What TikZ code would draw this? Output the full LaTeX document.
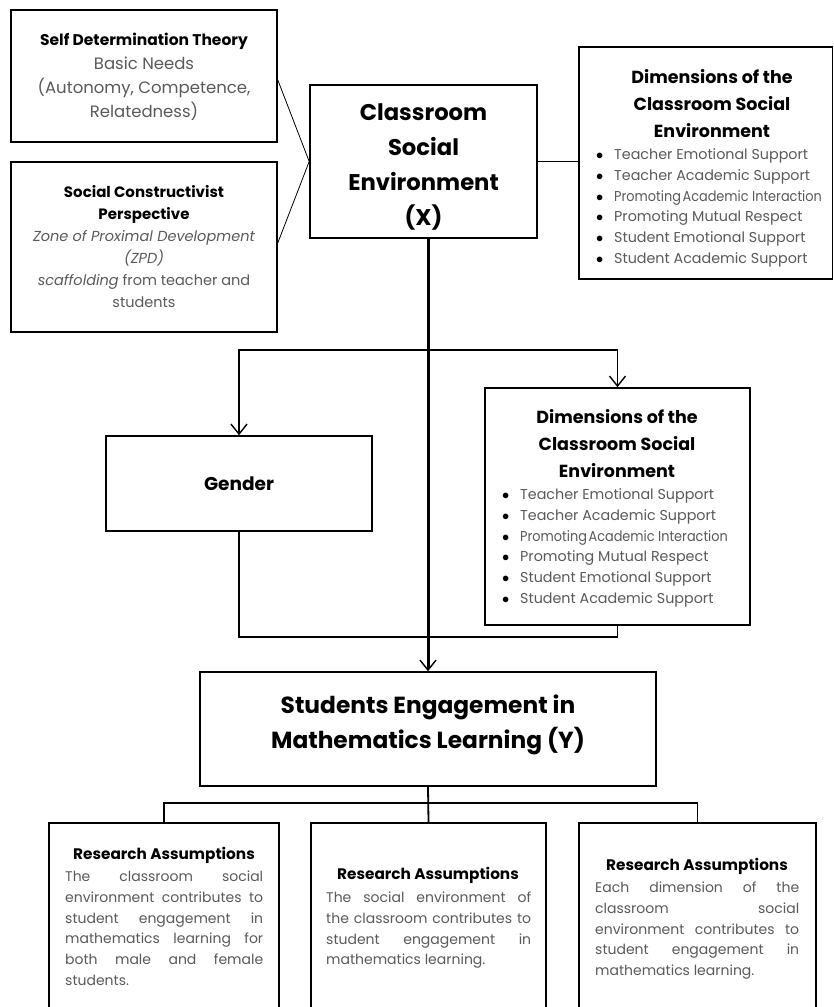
\documentclass[tikz,border=0pt]{standalone}
\usepackage{fontspec}
\usepackage{graphicx}
\setmainfont{Poppins}
\usetikzlibrary{arrows.meta,calc}
\definecolor{bodygray}{RGB}{90,90,90}
\newcommand{\bul}{\makebox[18pt][l]{\textcolor{black}{$\bullet$}}}
\begin{document}
\begin{tikzpicture}[x=1pt,y=-1pt,
  box/.style={draw, line width=1.6pt, rectangle, inner sep=0pt},
  conn/.style={line width=1.8pt},
  heavy/.style={line width=3pt},
  thinline/.style={line width=0.8pt},
  barb/.style={-{Straight Barb[length=10pt,width=16pt,line width=1.4pt]}},
  barbs/.style={{Straight Barb[length=10pt,width=16pt,line width=1.4pt]}-{Straight Barb[length=10pt,width=16pt,line width=1.4pt]}},
  txt/.style={inner sep=0pt, align=center},
  dimhead/.style={txt, anchor=north, font=\fontsize{17.5}{27}\selectfont\bfseries},
  dimlist/.style={txt, anchor=north west, align=left, text=bodygray, font=\fontsize{14.3}{20.8}\selectfont},
  rahead/.style={txt, font=\fontsize{15.3}{18}\selectfont\bfseries},
  rabody/.style={txt, anchor=north west, align=left, text=bodygray, font=\fontsize{14}{20.8}\selectfont},
]
\useasboundingbox (0,0) rectangle (834,1007);
\clip (0,0) rectangle (834,1007);
\fill[white] (0,0) rectangle (834,1007);

% boxes
\node[box, minimum width=266pt, minimum height=132pt] (sdt) at (144,76) {};
\node[box, minimum width=266pt, minimum height=170pt] (scp) at (144,247) {};
\node[box, minimum width=227pt, minimum height=153pt] (cse) at (423.5,161.5) {};
\node[box, minimum width=253.5pt, minimum height=232pt] (dimA) at (705.75,163) {};
\node[box, minimum width=266pt, minimum height=95pt] (gender) at (239,483.5) {};
\node[box, minimum width=265pt, minimum height=237pt] (dimB) at (617.5,506.5) {};
\node[box, minimum width=456pt, minimum height=114pt] (seml) at (428,729) {};
\node[box, minimum width=230pt, minimum height=220pt, anchor=north] (ra1) at (164,822) {};
\node[box, minimum width=235pt, minimum height=220pt, anchor=north] (ra2) at (428.5,822) {};
\node[box, minimum width=237pt, minimum height=220pt, anchor=north] (ra3) at (697.5,822) {};

% texts
\node[txt, text=bodygray, font=\fontsize{16.5}{24}\selectfont] (sdtt) at (144,76.5) {\textcolor{black}{\fontsize{15.5}{24}\selectfont\textbf{Self Determination Theory}}\\
  Basic Needs\\(Autonomy, Competence,\\Relatedness)};
\node[txt, text=bodygray, font=\fontsize{14.5}{22}\selectfont] (scpt) at (144,246.5) {\textcolor{black}{\fontsize{15}{22}\selectfont\textbf{Social Constructivist}}\\\textcolor{black}{\fontsize{15}{22}\selectfont\textbf{Perspective}}\\
  \textit{Zone of Proximal Development}\\\textit{(ZPD)}\\
  \textit{scaffolding} from teacher and\\students};
\node[txt, font=\fontsize{22.7}{35}\selectfont\bfseries] (cset) at (423.5,167) {Classroom\\Social\\Environment\\(X)};

\node[dimhead] (dimAh) at (712,69) {Dimensions of the\\Classroom Social\\Environment};
\node[dimlist] (dimAl) at (596,148.4) {%
  \bul Teacher Emotional Support\\
  \bul Teacher Academic Support\\
  \bul \scalebox{0.9}[1]{Promoting\hspace{-2pt} Academic Interaction}\\
  \bul Promoting Mutual Respect\\
  \bul Student Emotional Support\\
  \bul Student Academic Support};

\node[txt, font=\fontsize{18.5}{20}\selectfont\bfseries] (gendert) at (239,484) {Gender};

\node[dimhead] (dimBh) at (617,409) {Dimensions of the\\Classroom Social\\Environment};
\node[dimlist] (dimBl) at (502,488.4) {%
  \bul Teacher Emotional Support\\
  \bul Teacher Academic Support\\
  \bul \scalebox{0.9}[1]{Promoting\hspace{-2pt} Academic Interaction}\\
  \bul Promoting Mutual Respect\\
  \bul Student Emotional Support\\
  \bul Student Academic Support};

\node[txt, font=\fontsize{23.3}{35}\selectfont\bfseries] (semlt) at (428,725) {Students Engagement in\\Mathematics Learning (Y)};

\node[rahead] (ra1h) at (164,855) {Research Assumptions};
\node[rabody] (ra1b) at (65,870.6) {%
  \makebox[198pt][s]{The classroom social}\\
  \makebox[198pt][s]{environment contributes to}\\
  \makebox[198pt][s]{student engagement in}\\
  \makebox[198pt][s]{mathematics learning for}\\
  \makebox[198pt][s]{both male and female}\\
  students.};
\node[rahead] (ra2h) at (428,875) {Research Assumptions};
\node[rabody] (ra2b) at (326,891.6) {%
  \makebox[205pt][s]{The social environment of}\\
  \makebox[205pt][s]{the classroom contributes to}\\
  \makebox[205pt][s]{student engagement in}\\
  mathematics learning.};
\node[rahead] (ra3h) at (697,866) {Research Assumptions};
\node[rabody] (ra3b) at (595,881.6) {%
  \makebox[204pt][s]{Each dimension of the}\\
  \makebox[204pt][s]{classroom social}\\
  \makebox[204pt][s]{environment contributes to}\\
  \makebox[204pt][s]{student engagement in}\\
  mathematics learning.};

% connectors
\draw[thinline] ($(sdt.north east)!0.53!(sdt.south east)$) -- (cse.west) -- ($(scp.north east)!0.476!(scp.south east)$);
\draw[conn] (cse.east) -- (cse.east -| dimA.west);
\coordinate (br) at (428,350);
\coordinate (low) at (428,637);
\coordinate (bus) at (428,803);
\draw[conn, barbs] (gender.north) -- (gender.north |- br) -- (dimB.north |- br) -- (dimB.north);
\draw[conn] (gender.south) -- (gender.south |- low) -- (dimB.south |- low) -- (dimB.south);
\draw[heavy, barb] (cse.south -| seml.north) -- (seml.north);
\draw[conn] (seml.south) -- (ra2.north);
\draw[conn] (ra1.north) -- (ra1.north |- bus) -- (ra3.north |- bus) -- (ra3.north);
\end{tikzpicture}
\end{document}
